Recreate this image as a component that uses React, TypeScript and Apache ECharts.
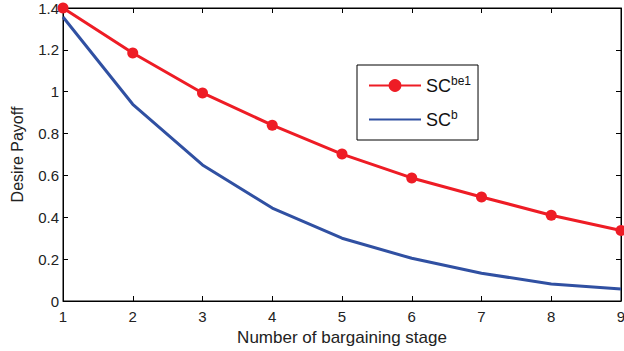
import React, { useEffect, useRef } from "react";
import * as echarts from "echarts";

const stages = [1, 2, 3, 4, 5, 6, 7, 8, 9];
const scbe1 = [1.4, 1.185, 0.994, 0.84, 0.702, 0.588, 0.497, 0.41, 0.337];
const scb = [1.357, 0.94, 0.65, 0.444, 0.3, 0.204, 0.133, 0.081, 0.057];
const xTitle = "Number of bargaining stage";
const yTitle = "Desire Payoff";

const font = "Liberation Sans, Arial, sans-serif";

export default function App() {
  const ref = useRef<HTMLDivElement>(null);
  useEffect(() => {
    if (!ref.current) return;
    const chart = echarts.init(ref.current, undefined, { renderer: "svg" });
    const axisCommon = {
      axisLine: { show: true, onZero: false, lineStyle: { color: "#000", width: 1 } },
      axisTick: { show: true, inside: true, length: 5, lineStyle: { color: "#000" } },
      splitLine: { show: false },
    };
    chart.setOption({
      animation: false,
      textStyle: { fontFamily: font },
      grid: {
        left: 63,
        right: 3,
        top: 8,
        bottom: 50,
        containLabel: false,
        outerBoundsMode: "none",
        show: true,
        borderColor: "#000",
        borderWidth: 1,
        backgroundColor: "transparent",
      },
      legend: {
        orient: "vertical",
        left: 357,
        top: 65,
        padding: [10, 7, 10, 11],
        itemGap: 13,
        itemWidth: 52,
        itemHeight: 16,
        borderColor: "#000",
        borderWidth: 1,
        backgroundColor: "#fff",
        data: [
          { name: "a" },
          { name: "b", itemStyle: { opacity: 0 } },
        ],
        formatter: (n: string) => (n === "a" ? "{m|SC}{s|be1}" : "{m|SC}{s|b}"),
        textStyle: {
          color: "#000",
          rich: {
            m: { fontSize: 18, fontFamily: font, color: "#111", lineHeight: 22 },
            s: { fontSize: 12, fontFamily: font, color: "#111", padding: [0, 0, 9, 0], lineHeight: 22 },
          },
        },
      },
      xAxis: [
        {
          type: "value",
          min: 1,
          max: 9,
          interval: 1,
          ...axisCommon,
          axisLabel: { fontSize: 15, color: "#222", margin: 8, fontFamily: font },
          name: xTitle,
          nameLocation: "middle",
          nameGap: 28,
          nameTextStyle: { fontSize: 17, color: "#222", fontFamily: font },
        },
        {
          type: "value",
          position: "top",
          min: 1,
          max: 9,
          interval: 1,
          ...axisCommon,
          axisLabel: { show: false },
        },
      ],
      yAxis: [
        {
          type: "value",
          min: 0,
          max: 1.4,
          interval: 0.2,
          ...axisCommon,
          axisLabel: {
            fontSize: 15,
            color: "#222",
            margin: 4,
            fontFamily: font,
            formatter: (v: number) => String(Math.round(v * 10) / 10),
          },
          name: yTitle,
          nameLocation: "middle",
          nameGap: 38,
          nameTextStyle: { fontSize: 16, color: "#222", fontFamily: font },
        },
        {
          type: "value",
          position: "right",
          min: 0,
          max: 1.4,
          interval: 0.2,
          ...axisCommon,
          axisLabel: { show: false },
        },
      ],
      series: [
        {
          name: "a",
          type: "line",
          data: stages.map((s, i) => [s, scbe1[i]]),
          lineStyle: { color: "#EE1C25", width: 3 },
          itemStyle: { color: "#EE1C25" },
          symbol: "circle",
          symbolSize: 11,
          showSymbol: true,
          clip: false,
          z: 3,
        },
        {
          name: "b",
          type: "line",
          data: stages.map((s, i) => [s, scb[i]]),
          lineStyle: { color: "#3050A2", width: 3 },
          itemStyle: { color: "#3050A2" },
          symbol: "none",
          clip: false,
          z: 2,
        },
      ],
    });
    return () => chart.dispose();
  }, []);
  return <div ref={ref} style={{ width: 624, height: 351, position: "absolute", left: 0, top: 0, background: "#fff" }} />;
}
